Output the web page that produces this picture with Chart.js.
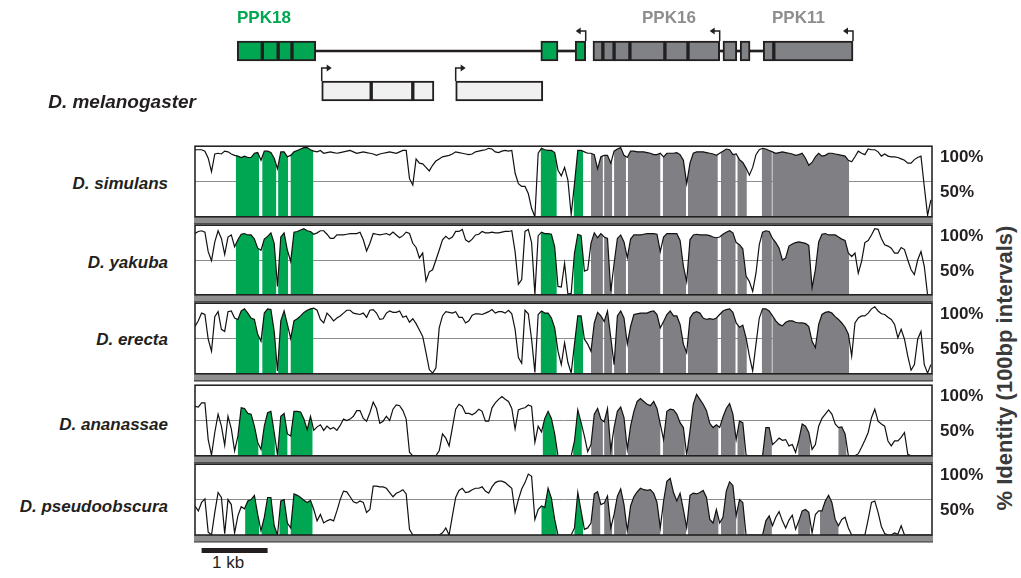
<!DOCTYPE html>
<html>
<head>
<meta charset="utf-8">
<script src="https://cdn.jsdelivr.net/npm/chart.js@4.4.1/dist/chart.umd.min.js"></script>
<style>
  html, body { margin: 0; padding: 0; background: #fff; }
  #fig { position: relative; width: 1021px; height: 578px; overflow: hidden;
         font-family: "Liberation Sans", Arial, Helvetica, sans-serif; }
  #fig canvas { position: absolute; left: 0; }
  .lbl { position: absolute; white-space: nowrap; line-height: 20px; }
  .gene { font-weight: bold; font-size: 17px; }
  .sp { font-weight: bold; font-style: italic; font-size: 17px; color: #231f20; text-align: right; right: 853px; }
  #ytitle { left: 855px; top: 356px; width: 300px; text-align: center; font-weight: bold; font-size: 22px;
            color: #3a3a3a; transform: rotate(-90deg); line-height: 24px; }
</style>
</head>
<body>
<div id="fig">
  <canvas id="genes" width="1021" height="120" style="top:0"></canvas>

  <div class="lbl gene" style="left:237px; top:8px; color:#00a651">PPK18</div>
  <div class="lbl gene" style="left:642px; top:8px; color:#8e8e90">PPK16</div>
  <div class="lbl gene" style="left:772px; top:8px; color:#8e8e90">PPK11</div>

  <div class="lbl sp" style="top:92px; right:825px; font-size:19px">D. melanogaster</div>
  <div class="lbl sp" style="top:174px">D. simulans</div>
  <div class="lbl sp" style="top:253px">D. yakuba</div>
  <div class="lbl sp" style="top:330px">D. erecta</div>
  <div class="lbl sp" style="top:415px">D. ananassae</div>
  <div class="lbl sp" style="top:497px">D. pseudoobscura</div>

  <div class="lbl" id="ytitle">% Identity (100bp intervals)</div>
  <div class="lbl" style="left:212px; top:553px; font-size:17px; color:#231f20">1 kb</div>
</div>

<script>
// region length shown, in kb
const AXIS_MAX_KB = 11.167;

// % identity of the 100 bp window, read every 50 bp along D. melanogaster
const simulans = [95, 95, 95, 93, 83, 64, 89, 90, 89, 93, 92, 89, 87, 86, 84, 86, 84, 84, 90, 91,
  80, 93, 93, 91, 83, 68, 92, 92, 85, 87, 92, 94, 96, 98, 98, 95, 93, 92, 94, 90,
  91, 92, 91, 90, 91, 92, 93, 94, 92, 90, 91, 92, 91, 90, 89, 87, 89, 90, 91, 92,
  91, 90, 92, 94, 94, 54, 45, 82, 76, 75, 70, 65, 73, 79, 82, 85, 86, 87, 89, 92,
  91, 90, 89, 88, 89, 92, 93, 94, 95, 97, 96, 92, 91, 93, 94, 93, 94, 62, 47, 43,
  43, 33, 12, 0, 90, 97, 95, 94, 94, 91, 66, 58, 70, 52, 3, 47, 94, 94, 92, 90,
  90, 88, 68, 85, 87, 87, 76, 93, 96, 98, 87, 84, 93, 93, 92, 92, 92, 91, 90, 88,
  88, 90, 85, 90, 90, 90, 91, 88, 80, 47, 76, 90, 92, 92, 92, 91, 90, 89, 87, 90,
  93, 96, 95, 88, 89, 81, 77, 69, 59, 70, 88, 95, 97, 96, 94, 92, 90, 91, 92, 91,
  90, 89, 87, 88, 90, 83, 73, 77, 85, 90, 86, 87, 90, 90, 89, 88, 87, 86, 80, 78,
  85, 93, 90, 88, 96, 95, 95, 92, 86, 89, 86, 85, 85, 84, 82, 80, 76, 76, 81, 84,
  86, 43, 2, 24];
const yakuba = [88, 91, 92, 90, 62, 49, 76, 92, 81, 58, 83, 86, 69, 79, 87, 88, 86, 86, 80, 67,
  64, 80, 84, 89, 74, 12, 83, 89, 64, 48, 90, 91, 93, 95, 92, 91, 87, 89, 92, 92,
  87, 81, 81, 86, 86, 86, 87, 88, 88, 88, 90, 79, 63, 74, 88, 87, 86, 87, 88, 86,
  90, 86, 82, 85, 90, 88, 74, 68, 53, 60, 20, 33, 36, 50, 64, 79, 84, 80, 83, 91,
  91, 94, 79, 76, 80, 86, 87, 91, 89, 89, 90, 89, 89, 90, 91, 91, 92, 62, 15, 22,
  91, 94, 75, 1, 85, 90, 88, 88, 87, 69, 12, 11, 45, 1, 2, 60, 87, 85, 34, 36,
  74, 89, 82, 88, 83, 81, 5, 45, 81, 86, 76, 53, 80, 86, 86, 86, 87, 88, 88, 88,
  87, 62, 83, 88, 88, 88, 88, 78, 41, 19, 79, 86, 87, 86, 86, 86, 85, 83, 82, 83,
  87, 90, 92, 89, 75, 72, 66, 27, 19, 5, 31, 72, 90, 92, 91, 81, 75, 67, 50, 53,
  70, 73, 75, 76, 75, 74, 71, 10, 36, 76, 87, 88, 86, 86, 86, 83, 80, 78, 60, 55,
  60, 31, 48, 75, 78, 86, 95, 94, 81, 72, 70, 67, 60, 60, 68, 65, 50, 36, 29, 50,
  62, 41, 0, 0];
const erecta = [67, 75, 86, 84, 49, 32, 81, 88, 63, 60, 88, 89, 79, 77, 89, 92, 86, 79, 77, 56,
  46, 86, 92, 91, 60, 4, 75, 89, 70, 50, 75, 78, 82, 87, 90, 92, 93, 90, 77, 72,
  86, 81, 75, 79, 82, 86, 90, 90, 86, 85, 84, 86, 80, 90, 91, 86, 77, 78, 86, 89,
  87, 87, 89, 80, 82, 73, 78, 71, 62, 53, 30, 6, 1, 8, 65, 82, 88, 87, 86, 88,
  80, 80, 72, 75, 83, 85, 85, 84, 86, 88, 91, 86, 88, 88, 86, 90, 85, 63, 23, 15,
  90, 85, 49, 2, 84, 89, 86, 86, 79, 65, 32, 13, 44, 16, 1, 42, 82, 82, 49, 42,
  32, 72, 87, 82, 74, 89, 51, 13, 82, 89, 79, 42, 67, 84, 85, 86, 86, 86, 88, 89,
  84, 65, 74, 84, 89, 82, 82, 70, 42, 30, 79, 86, 88, 86, 79, 77, 78, 77, 79, 84,
  89, 91, 92, 87, 72, 66, 69, 51, 25, 4, 42, 79, 92, 92, 89, 82, 75, 70, 68, 73,
  75, 75, 73, 72, 72, 71, 67, 46, 37, 70, 84, 87, 88, 86, 81, 77, 72, 66, 56, 25,
  72, 79, 82, 82, 86, 92, 95, 89, 85, 84, 80, 77, 70, 51, 63, 49, 25, 5, 13, 49,
  60, 13, 1, 13];
const ananassae = [70, 69, 75, 75, 23, 1, 33, 59, 42, 15, 56, 38, 7, 28, 68, 67, 60, 59, 42, 19,
  9, 42, 61, 63, 33, 1, 56, 60, 31, 28, 63, 63, 62, 52, 37, 56, 36, 41, 44, 36,
  42, 38, 40, 36, 43, 52, 50, 52, 56, 64, 64, 53, 49, 61, 76, 67, 46, 49, 56, 50,
  66, 72, 71, 64, 52, 5, 0, 0, 0, 0, 0, 0, 0, 0, 7, 31, 25, 14, 40, 66,
  73, 70, 60, 60, 58, 61, 66, 63, 49, 49, 68, 75, 80, 84, 80, 77, 67, 38, 65, 67,
  68, 72, 70, 19, 42, 34, 53, 63, 53, 31, 0, 0, 0, 0, 0, 21, 65, 47, 28, 6,
  16, 59, 67, 52, 48, 67, 8, 40, 63, 69, 54, 9, 42, 63, 77, 81, 77, 73, 71, 77,
  67, 45, 23, 63, 66, 65, 59, 47, 40, 1, 35, 73, 87, 80, 73, 64, 46, 40, 44, 40,
  55, 67, 74, 59, 23, 49, 47, 1, 0, 0, 0, 0, 0, 40, 40, 16, 20, 25, 22, 23,
  14, 16, 5, 23, 45, 42, 33, 9, 16, 42, 53, 59, 65, 59, 45, 40, 41, 31, 0, 0,
  0, 3, 12, 22, 33, 54, 66, 49, 45, 42, 21, 14, 21, 21, 26, 33, 2, 0, 0, 0,
  0, 0, 0, 0];
const pseudoobscura = [41, 34, 46, 51, 4, 0, 32, 60, 53, 2, 50, 43, 3, 27, 40, 37, 48, 50, 56, 29,
  6, 25, 53, 53, 13, 0, 48, 50, 17, 10, 58, 56, 53, 49, 46, 49, 36, 20, 29, 17,
  20, 22, 20, 34, 50, 62, 61, 54, 47, 45, 48, 46, 32, 36, 69, 69, 68, 68, 66, 60,
  54, 59, 61, 64, 58, 8, 0, 0, 0, 0, 0, 0, 0, 0, 0, 3, 10, 0, 27, 53,
  63, 66, 60, 61, 64, 66, 66, 68, 62, 59, 68, 74, 76, 76, 74, 70, 66, 32, 50, 65,
  74, 86, 83, 22, 36, 41, 39, 66, 52, 22, 0, 0, 0, 0, 0, 10, 60, 34, 8, 10,
  17, 58, 61, 43, 45, 55, 10, 29, 55, 65, 43, 6, 41, 54, 61, 66, 64, 63, 64, 59,
  46, 10, 48, 76, 80, 60, 48, 59, 36, 10, 56, 59, 58, 60, 63, 53, 22, 17, 36, 17,
  25, 62, 75, 70, 27, 50, 46, 0, 0, 0, 0, 0, 0, 20, 27, 13, 25, 33, 20, 10,
  21, 28, 8, 20, 34, 36, 32, 3, 29, 34, 34, 48, 56, 46, 22, 13, 22, 25, 10, 0,
  0, 0, 0, 0, 22, 46, 48, 32, 12, 2, 0, 0, 3, 1, 13, 0, 0, 0, 0, 0,
  0, 0, 0, 0];

// sampled positions (kb), one every 50 bp
const positionsKb = simulans.map((_, i) => (i * 50) / 1000);

// D. melanogaster annotation (kb)
const geneRows = ['top', 'bottom'];
const exonsPPK18 = [[0.64, 1.02], [1.02, 1.26], [1.26, 1.47], [1.47, 1.83], [5.24, 5.50], [5.76, 5.92]];
const exonsPPK16_11 = [[6.03, 6.18], [6.18, 6.35], [6.35, 6.59], [6.59, 7.12], [7.12, 7.47], [7.47, 7.95],
  [8.00, 8.21], [8.26, 8.41], [8.61, 8.77], [8.77, 9.97]];
const intronsTop = [[1.83, 5.24], [5.50, 5.76], [7.95, 8.00], [8.21, 8.26], [8.41, 8.61]];
const exonsBottom = [[1.92, 2.67], [2.67, 3.30], [3.30, 3.62], [3.95, 5.27]];
const tssMarks = [
  { at: 5.92, row: 'top', dir: -1 }, { at: 7.95, row: 'top', dir: -1 }, { at: 9.97, row: 'top', dir: -1 },
  { at: 1.92, row: 'bottom', dir: 1 }, { at: 3.95, row: 'bottom', dir: 1 }
];

// conserved exon regions shaded in each plot (kb)
const cnsGreenClose = [[0.62, 0.97], [1.02, 1.23], [1.26, 1.41], [1.45, 1.79], [5.24, 5.48], [5.74, 5.88]];
const cnsGrayClose = [[6.00, 6.18], [6.20, 6.32], [6.35, 6.53], [6.56, 7.05], [7.09, 7.44], [7.47, 7.92],
  [7.97, 8.19], [8.22, 8.36], [8.59, 8.74], [8.75, 9.91]];
const cnsGreenAna = [[0.65, 0.96], [1.01, 1.21], [1.26, 1.40], [1.45, 1.78], [5.27, 5.48], [5.73, 5.86]];
const cnsGrayAna = [[6.00, 6.18], [6.20, 6.33], [6.35, 6.53], [6.56, 7.05], [7.09, 7.42], [7.47, 7.93],
  [7.97, 8.19], [8.22, 8.33], [8.59, 8.74], [9.14, 9.32], [9.75, 9.87]];
const cnsGreenPse = [[0.76, 0.97], [1.01, 1.24], [1.28, 1.41], [1.45, 1.78], [5.25, 5.48], [5.75, 5.88]];
const cnsGrayPse = [[6.01, 6.14], [6.20, 6.32], [6.35, 6.53], [6.56, 7.05], [7.09, 7.44], [7.47, 7.93],
  [7.97, 8.20], [8.22, 8.33], [8.61, 8.74], [9.14, 9.32], [9.47, 9.75]];

const identityTicks = [100, 50];
const scaleBarKb = [0.10, 1.10];

const FONT = '"Liberation Sans", Arial, Helvetica, sans-serif';
const GREEN = '#00a651';
const GRAY = '#808084';
const INK = '#231f20';

Chart.defaults.font.family = FONT;

// ---- gene models ----
const tssPlugin = {
  id: 'tss',
  afterDatasetsDraw(chart) {
    const { ctx, scales: { x, y } } = chart;
    ctx.save();
    ctx.strokeStyle = INK;
    ctx.fillStyle = INK;
    ctx.lineWidth = 1.5;
    tssMarks.forEach(m => {
      const px = x.getPixelForValue(m.at);
      const boxTop = y.getPixelForValue(geneRows.indexOf(m.row)) - 10;
      const topY = boxTop - (m.row === 'top' ? 10 : 13);
      const tipX = px + m.dir * 10;
      ctx.beginPath();
      ctx.moveTo(px, boxTop);
      ctx.lineTo(px, topY);
      ctx.lineTo(tipX - m.dir * 3, topY);
      ctx.stroke();
      ctx.beginPath();
      ctx.moveTo(tipX, topY);
      ctx.lineTo(tipX - m.dir * 5, topY - 3.5);
      ctx.lineTo(tipX - m.dir * 5, topY + 3.5);
      ctx.closePath();
      ctx.fill();
    });
    ctx.restore();
  }
};

const toBars = (ranges, row) => ranges.map(r => ({ x: r, y: row }));
const boxStyle = { barThickness: 20, borderWidth: 2, borderColor: INK, borderSkipped: false, grouped: false };

new Chart(document.getElementById('genes'), {
  type: 'bar',
  data: {
    labels: geneRows,
    datasets: [
      { data: toBars(intronsTop, 'top'), backgroundColor: INK, barThickness: 2, borderWidth: 0, grouped: false, order: 1 },
      { data: toBars(exonsPPK18, 'top'), backgroundColor: GREEN, ...boxStyle },
      { data: toBars(exonsPPK16_11, 'top'), backgroundColor: '#808285', ...boxStyle },
      { data: toBars(exonsBottom, 'bottom'), backgroundColor: '#f1f1f2', ...boxStyle }
    ]
  },
  options: {
    indexAxis: 'y',
    responsive: false,
    animation: false,
    events: [],
    layout: { padding: { left: 195, right: 89, top: 31, bottom: 9 } },
    plugins: { legend: { display: false }, tooltip: { enabled: false } },
    scales: {
      x: { type: 'linear', min: 0, max: AXIS_MAX_KB, display: false },
      y: { display: false }
    }
  },
  plugins: [tssPlugin]
});

// ---- identity panels ----
const vistaPlugin = {
  id: 'vista',
  beforeDatasetsDraw(chart, args, opts) {
    const { ctx, chartArea: a, scales: { x, y } } = chart;
    const pts = chart.getDatasetMeta(0).data;
    const base = y.getPixelForValue(0);
    const shade = (regions, color) => {
      ctx.save();
      ctx.beginPath();
      regions.forEach(([s, e]) => {
        const x0 = x.getPixelForValue(s);
        const x1 = x.getPixelForValue(e);
        ctx.rect(x0, a.top, x1 - x0, a.bottom - a.top);
      });
      ctx.clip();
      ctx.beginPath();
      ctx.moveTo(pts[0].x, base);
      pts.forEach(p => ctx.lineTo(p.x, p.y));
      ctx.lineTo(pts[pts.length - 1].x, base);
      ctx.closePath();
      ctx.fillStyle = color;
      ctx.fill();
      ctx.restore();
    };
    shade(opts.green, GREEN);
    shade(opts.gray, GRAY);
  },
  afterDraw(chart, args, opts) {
    const { ctx, chartArea: a, scales: { x } } = chart;
    ctx.save();
    // sequence bar under the plot
    ctx.fillStyle = '#8e8e8e';
    ctx.fillRect(a.left - 1, a.bottom, a.right - a.left + 2, 7);
    ctx.strokeStyle = '#333';
    ctx.lineWidth = 1.2;
    ctx.beginPath();
    ctx.moveTo(a.left - 1, a.bottom + 7);
    ctx.lineTo(a.right + 1, a.bottom + 7);
    ctx.stroke();
    // frame
    ctx.strokeStyle = '#1a1a1a';
    ctx.lineWidth = 1.5;
    ctx.strokeRect(a.left, a.top, a.right - a.left, a.bottom - a.top);
    if (opts.scaleBar) {
      const x0 = x.getPixelForValue(scaleBarKb[0]);
      const x1 = x.getPixelForValue(scaleBarKb[1]);
      ctx.fillStyle = INK;
      ctx.fillRect(x0, a.bottom + 13, x1 - x0, 5);
    }
    ctx.restore();
  }
};

const panels = [
  { values: simulans, top: 146, h: 71, green: cnsGreenClose, gray: cnsGrayClose },
  { values: yakuba, top: 225, h: 70, green: cnsGreenClose, gray: cnsGrayClose },
  { values: erecta, top: 303, h: 71, green: cnsGreenClose, gray: cnsGrayClose },
  { values: ananassae, top: 385, h: 71, green: cnsGreenAna, gray: cnsGrayAna },
  { values: pseudoobscura, top: 464, h: 71, green: cnsGreenPse, gray: cnsGrayPse, scaleBar: true }
];

const fig = document.getElementById('fig');
panels.forEach(p => {
  const padTop = 18;
  const padBottom = p.scaleBar ? 26 : 18;
  const c = document.createElement('canvas');
  c.width = 1021;
  c.height = padTop + p.h + padBottom;
  c.style.top = (p.top - padTop) + 'px';
  fig.appendChild(c);

  new Chart(c, {
    type: 'line',
    data: {
      labels: positionsKb,
      datasets: [{
        data: p.values,
        borderColor: '#111',
        borderWidth: 1.2,
        pointRadius: 0,
        tension: 0,
        fill: false
      }]
    },
    options: {
      responsive: false,
      animation: false,
      events: [],
      layout: { padding: { left: 195, right: 0, top: padTop, bottom: padBottom } },
      plugins: {
        legend: { display: false },
        tooltip: { enabled: false },
        vista: { green: p.green, gray: p.gray, scaleBar: !!p.scaleBar }
      },
      scales: {
        x: { type: 'linear', min: 0, max: AXIS_MAX_KB, display: false },
        y: {
          position: 'right',
          min: 0,
          max: 100,
          afterBuildTicks: ax => { ax.ticks = identityTicks.map(v => ({ value: v })); },
          afterFit: ax => { ax.width = 89; },
          border: { display: false },
          grid: {
            drawTicks: false,
            lineWidth: 1,
            color: ctx => (ctx.tick && ctx.tick.value === 50 ? '#8d8d8d' : 'rgba(0,0,0,0)')
          },
          ticks: {
            padding: 8,
            labelOffset: 11,
            color: INK,
            font: { size: 17, weight: 'bold' },
            callback: v => v + '%'
          }
        }
      }
    },
    plugins: [vistaPlugin]
  });
});
</script>
</body>
</html>
